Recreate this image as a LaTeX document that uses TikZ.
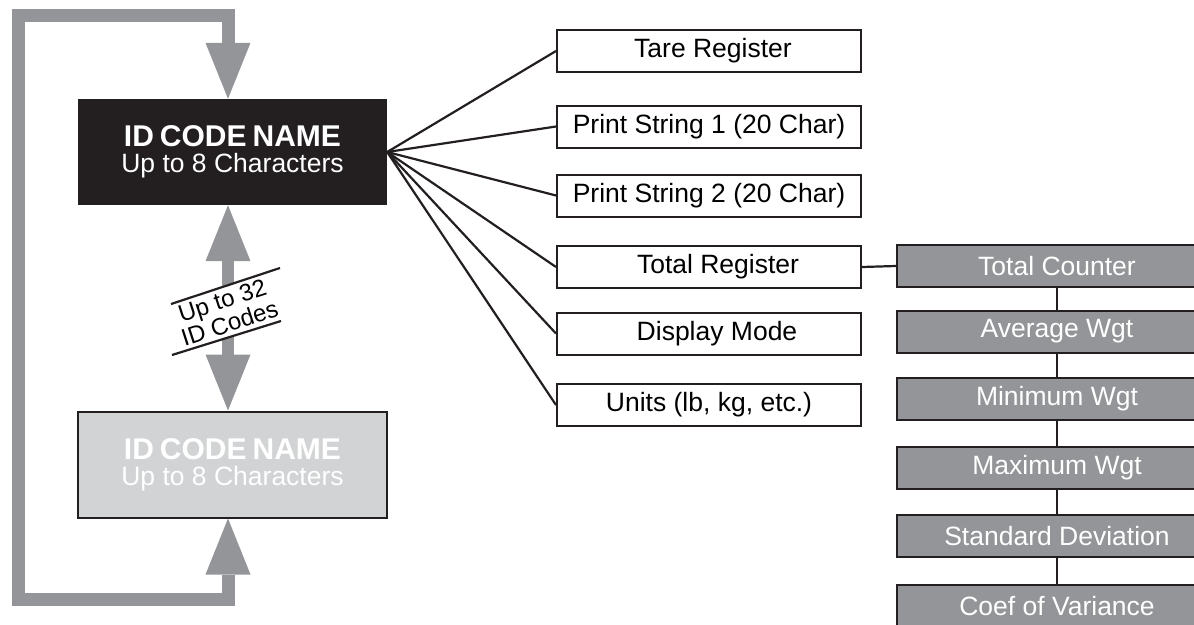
\documentclass[tikz,border=0pt]{standalone}
\usepackage{fontspec}
\setmainfont{Liberation Sans}
\usetikzlibrary{arrows.meta}
\definecolor{midgray}{HTML}{939598}
\definecolor{palegray}{HTML}{D1D3D4}
\definecolor{nearblack}{HTML}{231F20}
\newcommand{\idtext}{{\fontsize{30}{26}\selectfont\bfseries ID\hspace{6pt}CODE\hspace{6pt}NAME}\\{\fontsize{26.5}{26}\selectfont Up to 8 Characters}}
\begin{document}
\begin{tikzpicture}[x=1pt,y=-1pt,
  txt/.style={font=\fontsize{26.5}{30}\selectfont},
  wbox/.style={draw=nearblack, line width=2pt, fill=white, minimum width=304pt, minimum height=42pt, inner sep=0pt, txt, text=black},
  gbox/.style={draw=nearblack, line width=2pt, fill=midgray, minimum width=320pt, minimum height=42pt, inner sep=0pt, txt, text=white},
  idbox/.style={minimum width=309pt, minimum height=106pt, inner sep=0pt, align=center, text=white, font=\fontsize{26.5}{26}\selectfont},
  fan/.style={line width=2.2pt, draw=nearblack},
  bigloop/.style={draw=midgray, line width=13pt, line join=miter,
    {Triangle[width=45pt,length=56pt,line width=0pt]}-{Triangle[width=45pt,length=56pt,line width=0pt]}},
  bigdouble/.style={draw=midgray, line width=12pt,
    {Triangle[width=45pt,length=56pt,line width=0pt]}-{Triangle[width=45pt,length=56pt,line width=0pt]}},
  slant/.style={rotate=18, inner sep=0pt, align=center, font=\fontsize{24}{24}\selectfont}
]
\useasboundingbox (0,0) rectangle (1194,624);
\clip (0,0) rectangle (1194,624);

% ID boxes
\node[idbox, fill=nearblack] (topbox) at (232.5,152) {\idtext};
\node[idbox, fill=palegray, draw=nearblack, line width=2pt] (botbox) at (232.5,464.5) {\idtext};

% loop arrow
\coordinate (loopx) at (228,0);
\coordinate (lbr) at (228,599.5);
\coordinate (lbl) at (18,599.5);
\coordinate (ltl) at (18,15);
\coordinate (ltr) at (228,15);
\draw[bigloop] (loopx |- botbox.south) -- (lbr) -- (lbl) -- (ltl) -- (ltr) -- (loopx |- topbox.north);

% double arrow with slanted label
\draw[bigdouble] (loopx |- topbox.south) -- (loopx |- botbox.north);
\coordinate (cc) at (226,312);
\coordinate (tlft) at ([shift={(-55,-8)}]cc);
\coordinate (trgt) at ([shift={(54,-44)}]cc);
\coordinate (blft) at ([shift={(-54,43)}]cc);
\coordinate (brgt) at ([shift={(55,9)}]cc);
\fill[white] (tlft) -- (trgt) -- (brgt) -- (blft) -- cycle;
\node[slant] (count) at (cc) {Up to 32\\ID Codes};
\draw[fan] (tlft) -- (trgt);
\draw[fan] (blft) -- (brgt);

% register boxes
\node[wbox] (tare) at (709,51) {\hspace*{8pt}Tare Register};
\node[wbox] (ps1) at (709,126.5) {Print String 1 (20 Char)};
\node[wbox] (ps2) at (709,195.5) {Print String 2 (20 Char)};
\node[wbox] (total) at (709,267) {\hspace*{18pt}Total Register};
\node[wbox] (disp) at (709,333.5) {\hspace*{16pt}Display Mode};
\node[wbox] (units) at (709,405) {\raisebox{-5pt}{Units (lb, kg, etc.)}};

\foreach \n in {tare,ps1,ps2,total,disp,units}
  \draw[fan] (topbox.east) -- (\n.west);

% statistics boxes
\node[gbox] (tc) at (1057,266) {Total Counter};
\node[gbox] (aw) at (1057,331.5) {Average Wgt};
\node[gbox] (minw) at (1057,399) {Minimum Wgt};
\node[gbox] (maxw) at (1057,467.5) {Maximum Wgt};
\node[gbox] (sd) at (1057,536) {Standard Deviation};
\node[gbox] (cv) at (1057,606) {Coef of Variance};

\draw[fan] (total.east) -- (tc.west);
\draw[fan] (tc.south) -- (aw.north);
\draw[fan] (aw.south) -- (minw.north);
\draw[fan] (minw.south) -- (maxw.north);
\draw[fan] (maxw.south) -- (sd.north);
\draw[fan] (sd.south) -- (cv.north);
\end{tikzpicture}
\end{document}
